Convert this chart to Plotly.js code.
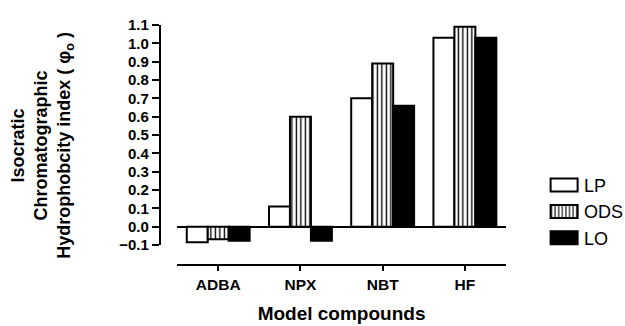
<!DOCTYPE html>
<html><head><meta charset="utf-8">
<script src="https://cdn.plot.ly/plotly-3.0.1.min.js"></script>
<style>html,body{margin:0;padding:0;background:#fff}</style>
</head><body>
<div id="chart" style="width:625px;height:326px"></div>
<script>
const categories = ["ADBA", "NPX", "NBT", "HF"];
const LP  = [-0.085, 0.11, 0.70, 1.03];
const ODS = [-0.068, 0.60, 0.89, 1.09];
const LO  = [-0.077, -0.077, 0.66, 1.03];
const yTicks = [-0.1, 0.0, 0.1, 0.2, 0.3, 0.4, 0.5, 0.6, 0.7, 0.8, 0.9, 1.0, 1.1];

const F = "Liberation Sans, Arial, sans-serif";
const line = {color: "#000", width: 2};
const traces = [
  {type: "bar", name: "LP", x: categories, y: LP, marker: {color: "#fff", line: line}},
  {type: "bar", name: "ODS", x: categories, y: ODS,
   marker: {color: "#fff", line: line, pattern: {shape: "|", fgcolor: "#000", bgcolor: "#fff", size: 4.5, solidity: 0.3}}},
  {type: "bar", name: "LO", x: categories, y: LO, marker: {color: "#000", line: line}}
];
const layout = {
  width: 625, height: 326,
  margin: {l: 155, r: 105, t: 25, b: 61},
  paper_bgcolor: "#fff", plot_bgcolor: "#fff",
  font: {family: F, color: "#000"},
  barmode: "group", bargap: 0.235, bargroupgap: 0,
  showlegend: true,
  legend: {x: 1.063, xanchor: "left", y: 0.43, yanchor: "top", font: {size: 18, family: F},
           tracegroupgap: 0, itemwidth: 30, bgcolor: "rgba(0,0,0,0)", borderwidth: 0},
  xaxis: {domain: [0.063, 1], anchor: "free", position: 0, range: [-0.5, 3.5],
          showline: true, linecolor: "#000", linewidth: 2, ticks: "outside", ticklen: 5, tickwidth: 2, tickcolor: "#000",
          tickfont: {size: 15.5, family: F, weight: "bold"}, showgrid: false, zeroline: false,
          title: {text: "<b>Model compounds</b>", font: {size: 19, family: F}, standoff: 14}},
  yaxis: {domain: [0.0833, 1], anchor: "free", position: 0.0137, range: [-0.1, 1.1],
          tickvals: yTicks, tickformat: ".1f",
          showline: true, linecolor: "#000", linewidth: 2, ticks: "outside", ticklen: 7, tickwidth: 2, tickcolor: "#000",
          tickfont: {size: 15, family: F, weight: "bold"}, showgrid: false,
          zeroline: true, zerolinecolor: "#000", zerolinewidth: 2},
  annotations: [{
    xref: "paper", yref: "paper", x: -0.32, y: 0.5, xanchor: "center", yanchor: "middle",
    textangle: -90, showarrow: false, align: "center",
    font: {size: 18, family: F, weight: "bold"},
    text: "Isocratic<br>Chromatographic<br>Hydrophobcity index ( φ<sub>o</sub> )"
  }]
};
Plotly.newPlot("chart", traces, layout, {displayModeBar: false, staticPlot: true}).then(function () {
  // widen the legend swatches to match the reference's wide boxes
  document.querySelectorAll(".legend .legendpoints path").forEach(function (p) {
    p.setAttribute("d", "M13.5,6.5H-13.5V-6.5H13.5Z");
  });
  // nudge legend to the reference's place
  const lg = document.querySelector(".legend");
  if (lg) {
    const m = /translate\(([-\d.]+)[ ,]+([-\d.]+)\)/.exec(lg.getAttribute("transform") || "");
    if (m) lg.setAttribute("transform", "translate(" + (parseFloat(m[1]) + 16) + "," + (parseFloat(m[2]) + 5) + ")");
  }
});
</script>
</body></html>
